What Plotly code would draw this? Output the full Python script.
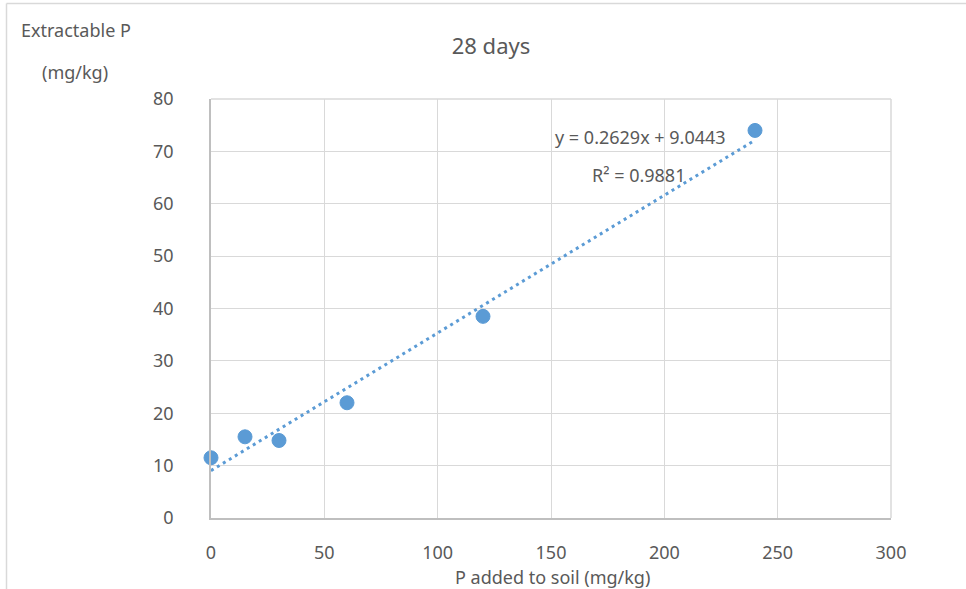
import plotly.graph_objects as go

# Data
p_added = [0, 15, 30, 60, 120, 240]
extractable_p = [11.5, 15.5, 14.8, 22.0, 38.5, 74.0]
trend_slope = 0.2629
trend_intercept = 9.0443
r_squared = 0.9881
x_ticks = [0, 50, 100, 150, 200, 250, 300]
y_ticks = [0, 10, 20, 30, 40, 50, 60, 70, 80]

BLUE = "#5B9BD5"
TXT = "#595959"
GRID = "#D9D9D9"
AXIS = "#BFBFBF"
FONT = "Noto Sans"

W, H = 966, 589
L, R, T, B = 211, 891, 99, 518  # plot area pixels

trend_x = [min(p_added), max(p_added)]
trend_y = [trend_slope * v + trend_intercept for v in trend_x]

fig = go.Figure()
fig.add_trace(go.Scatter(
    x=trend_x, y=trend_y, mode="lines",
    line=dict(color=BLUE, width=3, dash="3px,4px"),
    hoverinfo="skip", showlegend=False, cliponaxis=False,
))
fig.add_trace(go.Scatter(
    x=p_added, y=extractable_p, mode="markers",
    marker=dict(color=BLUE, size=14, line=dict(color=BLUE, width=1)),
    showlegend=False, cliponaxis=False,
))

def px(xp):
    return (xp - L) / (R - L)

def py(yp):
    return (B - yp) / (B - T)

fig.update_layout(
    width=W, height=H,
    margin=dict(l=L, r=W - R, t=T, b=H - B, pad=0),
    paper_bgcolor="white", plot_bgcolor="white",
    font=dict(family=FONT, color=TXT, size=18),
    title=dict(text="28 days", x=491 / W, xref="container", xanchor="center",
               y=1 - 46 / H, yref="container", yanchor="middle",
               font=dict(size=22, color=TXT, family=FONT)),
    xaxis=dict(range=[0, 300], tickvals=x_ticks, showgrid=True, gridcolor=GRID, gridwidth=1,
               zeroline=False, showline=True, linecolor=AXIS, linewidth=1.5, mirror=False,
               ticks="outside", ticklen=18, tickcolor="rgba(0,0,0,0)",
               tickfont=dict(size=18, color=TXT, family=FONT), fixedrange=True),
    yaxis=dict(range=[0, 80], tickvals=y_ticks, showgrid=True, gridcolor=GRID, gridwidth=1,
               zeroline=False, showline=True, linecolor=AXIS, linewidth=1.5,
               ticks="outside", ticklen=32, tickcolor="rgba(0,0,0,0)",
               tickfont=dict(size=18, color=TXT, family=FONT), fixedrange=True),
    shapes=[
        # plot area top and right border
        dict(type="line", xref="paper", yref="paper", x0=0, x1=1, y0=1, y1=1,
             line=dict(color=GRID, width=1.5)),
        dict(type="line", xref="paper", yref="paper", x0=1, x1=1, y0=0, y1=1,
             line=dict(color=GRID, width=1.5)),
        # outer chart frame (top and left)
        dict(type="line", xref="paper", yref="paper", x0=px(6.5), x1=px(W + 5), y0=py(3.5), y1=py(3.5),
             line=dict(color=GRID, width=1.5)),
        dict(type="line", xref="paper", yref="paper", x0=px(6.5), x1=px(6.5), y0=py(3.5), y1=py(H + 5),
             line=dict(color=GRID, width=1.5)),
    ],
    annotations=[
        dict(text="Extractable P", xref="paper", yref="paper", x=px(76), y=py(30),
             xanchor="center", yanchor="middle", showarrow=False, font=dict(size=18, color=TXT)),
        dict(text="(mg/kg)", xref="paper", yref="paper", x=px(75), y=py(72),
             xanchor="center", yanchor="middle", showarrow=False, font=dict(size=18, color=TXT)),
        dict(text="P added to soil (mg/kg)", xref="paper", yref="paper", x=px(552), y=py(577),
             xanchor="center", yanchor="middle", showarrow=False, font=dict(size=18, color=TXT)),
        dict(text=f"y = {trend_slope}x + {trend_intercept}", xref="paper", yref="paper",
             x=px(640), y=py(137), xanchor="center", yanchor="middle", showarrow=False,
             font=dict(size=18, color=TXT)),
        dict(text=f"R² = {r_squared}", xref="paper", yref="paper",
             x=px(638), y=py(175), xanchor="center", yanchor="middle", showarrow=False,
             font=dict(size=18, color=TXT)),
    ],
)

fig.write_html("out.html", config={"displayModeBar": False},
               post_script="document.body.style.margin='0';document.body.style.overflow='hidden';")
